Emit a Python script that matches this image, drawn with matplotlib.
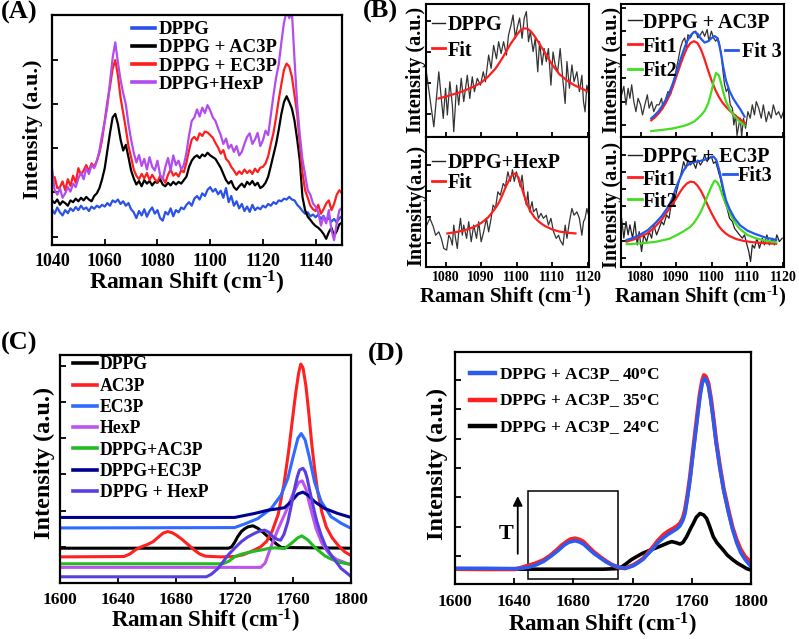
import numpy as np
import matplotlib
matplotlib.use('Agg')
import matplotlib.pyplot as plt
from matplotlib.patches import Rectangle
from matplotlib.lines import Line2D

plt.rcParams['font.family'] = ['Liberation Serif', 'DejaVu Serif']
plt.rcParams['font.weight'] = 'bold'
plt.rcParams['axes.labelweight'] = 'bold'
plt.rcParams['mathtext.fontset'] = 'custom'
plt.rcParams['mathtext.rm'] = 'Liberation Serif:bold'
plt.rcParams['mathtext.it'] = 'Liberation Serif:bold:italic'
plt.rcParams['mathtext.bf'] = 'Liberation Serif:bold'
plt.rcParams['mathtext.default'] = 'rm'

# ---------------- Panel A data ----------------
a_x = np.arange(1040, 1151)
a_dppg = [0.62, 0.52, 0.66, 0.55, 0.48, 0.60, 0.53, 0.64, 0.58, 0.67,
          0.60, 0.70, 0.62, 0.66, 0.58, 0.68, 0.63, 0.70, 0.66, 0.72,
          0.68, 0.76, 0.70, 0.82, 0.78, 0.84, 0.74, 0.80, 0.70, 0.76,
          0.62, 0.55, 0.42, 0.58, 0.48, 0.62, 0.45, 0.58, 0.66, 0.52,
          0.60, 0.42, 0.36, 0.56, 0.50, 0.64, 0.46, 0.60, 0.55, 0.66,
          0.62, 0.72, 0.78, 0.70, 0.86, 0.92, 0.84, 0.98, 0.92, 1.06,
          1.12, 1.02, 1.08, 0.96, 1.04, 0.88, 1.10, 0.78, 0.92, 0.70,
          0.80, 0.64, 0.74, 0.58, 0.68, 0.56, 0.72, 0.60, 0.66, 0.62,
          0.70, 0.66, 0.74, 0.70, 0.78, 0.74, 0.82, 0.80, 0.86, 0.84,
          0.90, 0.84, 0.82, 0.72, 0.66, 0.58, 0.52, 0.55, 0.46, 0.50,
          0.44, 0.50, 0.40, 0.47, 0.36, 0.42, 0.34, 0.40, 0.32, 0.42, 0.46]
a_ac3p = [0.82, 0.76, 0.84, 0.72, 0.80, 0.76, 0.70, 0.82, 0.78, 0.86,
          0.80, 0.88, 0.82, 0.90, 0.84, 0.80, 0.92, 0.98, 1.10, 1.30,
          1.55, 1.95, 2.35, 2.70, 2.78, 2.55, 2.20, 1.95, 2.08, 1.80,
          1.50, 1.32, 1.18, 1.26, 1.14, 1.28, 1.20, 1.26, 1.16, 1.24,
          1.22, 1.30, 1.18, 1.14, 1.22, 1.16, 1.24, 1.18, 1.24, 1.20,
          1.28, 1.36, 1.58, 1.72, 1.80, 1.84, 1.78, 1.86, 1.82, 1.90,
          1.84, 1.80, 1.76, 1.66, 1.56, 1.42, 1.28, 1.20, 1.26, 1.12,
          1.06, 1.14, 1.20, 1.12, 1.24, 1.18, 1.26, 1.16, 1.22, 1.10,
          1.14, 1.22, 1.36, 1.60, 1.85, 2.10, 2.42, 2.78, 3.05, 3.18,
          3.05, 2.90, 2.62, 2.20, 1.72, 0.90, 0.60, 0.45, 0.38, 0.30,
          0.24, 0.20, 0.14, 0.06, -0.05, 0.10, 0.20, 0.02, 0.12, 0.28, 0.32]
a_ec3p = [1.20, 1.35, 1.10, 1.12, 1.25, 1.05, 1.30, 1.15, 1.38, 1.22,
          1.55, 1.40, 1.50, 1.62, 1.48, 1.66, 1.58, 1.72, 1.90, 2.20,
          2.62, 3.05, 3.40, 3.80, 4.00, 3.65, 3.15, 2.80, 2.45, 2.05,
          1.80, 1.52, 1.38, 1.30, 1.42, 1.32, 1.44, 1.28, 1.40, 1.30,
          1.24, 1.38, 1.32, 1.22, 1.40, 1.52, 1.38, 1.44, 1.36, 1.50,
          1.46, 1.68, 1.96, 2.20, 2.26, 2.18, 2.34, 2.28, 2.38, 2.36,
          2.30, 2.24, 2.12, 2.02, 1.88, 1.96, 1.76, 1.70, 1.58, 1.50,
          1.40, 1.48, 1.42, 1.52, 1.44, 1.50, 1.42, 1.54, 1.46, 1.56,
          1.58, 1.66, 1.82, 2.10, 2.35, 2.70, 3.10, 3.45, 3.78, 3.92,
          3.85, 3.62, 3.20, 2.78, 2.10, 1.45, 1.05, 0.88, 0.70, 0.62,
          0.58, 0.72, 0.52, 0.62, 0.75, 0.82, 0.60, 0.74, 0.95, 1.05, 0.98]
a_hexp = [1.55, 1.05, 0.95, 1.10, 0.88, 0.98, 1.12, 1.02, 1.20, 1.12,
          1.32, 1.45, 1.30, 1.55, 1.42, 1.62, 1.55, 1.70, 1.95, 2.30,
          2.60, 2.95, 3.50, 4.05, 4.40, 3.95, 3.55, 3.25, 3.00, 2.55,
          2.20, 1.90, 1.68, 1.85, 1.60, 1.76, 1.52, 1.80, 1.58, 1.50,
          1.72, 1.40, 1.30, 1.58, 1.78, 1.50, 1.84, 1.62, 1.72, 1.52,
          1.62, 1.90, 2.30, 2.62, 2.70, 2.88, 2.72, 2.92, 2.80, 2.98,
          2.86, 2.70, 2.62, 2.45, 2.30, 2.10, 2.22, 2.00, 2.08, 1.92,
          2.05, 1.84, 1.92, 2.10, 2.26, 2.34, 2.10, 2.20, 2.35, 2.05,
          2.18, 2.40, 2.30, 2.75, 3.20, 3.60, 3.90, 4.40, 4.85, 5.10,
          4.95, 5.10, 4.00, 3.00, 2.30, 1.75, 1.40, 1.05, 0.95, 0.75,
          0.68, 0.55, 0.25, 0.45, 0.30, 0.60, 0.15, -0.08, 0.30, 0.60, 0.65]
a_labels = ['DPPG', 'DPPG + AC3P', 'DPPG + EC3P', 'DPPG+HexP']
a_ticks = [1040, 1060, 1080, 1100, 1120, 1140]

# ---------------- Panel B data ----------------
b_ticks = [1080, 1090, 1100, 1110, 1120]
# upper-left: DPPG
ul_x = [1074.6, 1076.7, 1078.1, 1078.8, 1079.35, 1080.0, 1080.5, 1081.2, 1081.9, 1082.3,
        1083.1, 1083.7, 1084.4, 1085.1, 1086.1, 1086.8, 1087.5, 1088.1, 1088.9, 1089.8,
        1090.6, 1091.2, 1092.1, 1092.8, 1093.5, 1094.3, 1094.9, 1095.6, 1096.3, 1097.1,
        1097.7, 1098.4, 1098.95, 1099.6, 1100.1, 1100.8, 1101.5, 1102.1, 1102.7, 1103.3,
        1103.8, 1104.6, 1105.2, 1105.9, 1106.4, 1107.1, 1107.7, 1108.3, 1108.9, 1109.6,
        1110.2, 1110.8, 1111.5, 1112.2, 1113.0, 1113.6, 1114.1, 1114.8, 1115.5, 1116.1,
        1116.9, 1117.6, 1118.3, 1118.75, 1119.2, 1119.7, 1120.3]
ul_y = [1.35, -0.42, 1.35, 0.49, -0.15, 0.82, -0.04, 1.03, 0.28, -0.58,
        0.92, 0.28, 1.14, 0.39, 1.24, 0.49, 1.19, 0.71, 1.14, 0.92,
        1.35, 1.03, 1.89, 1.46, 2.20, 1.77, 2.32, 1.94, 2.32, 1.89,
        2.54, 2.86, 3.18, 2.43, 2.75, 3.08, 2.43, 3.08, 3.29, 2.32,
        2.65, 2.00, 2.43, 1.35, 2.32, 1.57, 2.10, 1.68, 2.10, 0.92,
        1.99, 1.57, 1.35, 2.10, 1.03, 0.33, 1.68, 0.82, 1.57, 1.03,
        1.35, 0.71, 1.24, 0.39, 0.06, 0.92, 0.60]
ul_fit_x = [1078, 1080, 1082, 1084, 1086, 1088, 1090, 1092, 1094, 1095, 1096, 1098, 1100,
            1101, 1102, 1103, 1104, 1105, 1106, 1108, 1110, 1112, 1114, 1116, 1118, 1120]
ul_fit_y = [0.49, 0.55, 0.62, 0.69, 0.78, 0.88, 1.00, 1.20, 1.45, 1.62, 1.80, 2.20, 2.54,
            2.68, 2.75, 2.74, 2.65, 2.50, 2.32, 1.95, 1.57, 1.27, 1.08, 0.93, 0.82, 0.72]
# lower-left: DPPG+HexP
ll_x = [1074.7, 1075.6, 1076.55, 1077.2, 1078.1, 1078.8, 1079.5, 1080.3, 1080.9, 1081.4,
        1081.9, 1082.3, 1082.8, 1083.3, 1083.7, 1084.2, 1084.7, 1085.1, 1085.9, 1086.5,
        1087.2, 1087.9, 1088.7, 1089.3, 1090.0, 1090.7, 1091.5, 1092.1, 1092.8, 1093.35,
        1094.0, 1094.7, 1095.4, 1096.2, 1096.8, 1097.5, 1098.2, 1098.8, 1099.3, 1099.9,
        1100.5, 1101.0, 1101.5, 1102.1, 1102.7, 1103.1, 1103.6, 1104.3, 1104.7, 1105.5,
        1106.1, 1106.8, 1107.5, 1108.3, 1108.9, 1109.6, 1110.35, 1111.1, 1111.75, 1112.2,
        1113.0, 1113.6, 1114.1, 1114.8, 1115.5, 1116.1, 1116.9, 1117.6, 1118.3, 1118.75,
        1119.2, 1119.7, 1120.3]
ll_y = [0.68, 0.94, 0.62, 0.29, 0.42, 0.17, -0.22, -0.28, 0.29, 0.17,
        -0.09, 0.68, 0.17, -0.22, 0.42, 0.94, 0.29, 0.68, 0.17, 0.81,
        0.04, 0.68, 0.17, 0.81, 0.04, 0.42, 0.94, 0.42, 0.94, 1.45,
        1.32, 1.96, 1.83, 2.28, 2.15, 2.73, 2.36, 2.81, 2.36, 2.73,
        2.41, 2.15, 2.60, 1.83, 1.45, 1.96, 1.19, 1.58, 1.19, 1.32,
        0.94, 1.13, 0.94, 1.06, 0.68, 0.94, 0.42, 0.17, 0.29, 0.10,
        -0.09, 0.68, 0.17, 0.81, 1.32, 1.06, 1.19, 0.94, 0.29, 0.81,
        0.94, 1.32, 1.00]
ll_fit_x = [1080.5, 1082, 1084, 1086, 1088, 1090, 1092, 1094, 1095, 1096, 1097, 1098, 1098.7,
            1099.6, 1100.5, 1101, 1102, 1103, 1104, 1105, 1106, 1107, 1108, 1110, 1112, 1114, 1116.5]
ll_fit_y = [0.36, 0.39, 0.44, 0.51, 0.61, 0.76, 0.98, 1.33, 1.55, 1.85, 2.18, 2.45, 2.60,
            2.67, 2.50, 2.30, 1.85, 1.45, 1.18, 0.97, 0.84, 0.73, 0.64, 0.51, 0.43, 0.39, 0.36]
# upper-right: DPPG + AC3P
ur_x = [1074.67, 1075.3, 1075.9, 1076.5, 1077.0, 1077.5, 1078.1, 1078.7, 1079.3, 1080.0,
        1080.55, 1081.2, 1081.9, 1082.4, 1083.1, 1083.7, 1084.5, 1085.2, 1085.9, 1086.3,
        1087.1, 1087.7, 1088.4, 1089.1, 1089.9, 1090.5, 1091.2, 1091.8, 1092.4, 1092.9,
        1093.3, 1094.0, 1094.7, 1095.5, 1096.1, 1096.8, 1097.4, 1098.0, 1098.7, 1099.2,
        1099.9, 1100.5, 1101.1, 1101.75, 1102.2, 1102.7, 1103.15, 1103.6, 1104.1, 1104.6,
        1105.2, 1105.8, 1106.2, 1106.7, 1107.1, 1107.6, 1108.0, 1108.4, 1108.9, 1109.5,
        1110.15, 1110.8, 1111.4, 1112.0, 1112.5, 1113.2, 1113.9, 1114.5, 1115.3, 1116.0,
        1116.7, 1117.3, 1118.1, 1118.8, 1119.5, 1120.14]
ur_y = [1.29, 1.65, 0.86, 1.57, 1.14, 1.72, 1.00, 0.57, 1.14, 0.86,
        0.43, 0.86, 1.29, 0.72, 1.00, 0.57, 0.86, 0.86, 1.14, 0.72,
        1.14, 1.43, 1.29, 1.72, 2.29, 2.72, 3.29, 3.58, 3.72, 3.29,
        3.86, 3.72, 3.93, 4.01, 3.72, 3.86, 4.01, 3.79, 4.08, 3.58,
        4.01, 3.72, 3.58, 3.72, 3.43, 3.00, 2.29, 1.72, 1.43, 1.57,
        0.86, 0.72, 0.00, 0.43, -0.45, 0.00, 0.29, -0.50, 0.29, -0.14,
        0.57, 0.29, 0.86, 0.43, 1.00, 0.72, 0.29, 0.86, 0.14, 0.57,
        0.29, 0.86, 0.43, 0.57, 0.29, 0.57]
ur_fit1_x = [1083, 1084, 1085, 1086, 1087, 1088, 1089, 1090, 1091, 1092, 1093, 1094, 1095, 1096,
             1097, 1098, 1099, 1100, 1101, 1102, 1103, 1104, 1105, 1106, 1107, 1108, 1109.2]
ur_fit1_y = [0.20, 0.32, 0.48, 0.68, 0.92, 1.22, 1.60, 2.05, 2.50, 2.92, 3.28, 3.50, 3.58, 3.50,
             3.22, 2.80, 2.32, 1.88, 1.50, 1.20, 0.96, 0.78, 0.62, 0.48, 0.36, 0.24, 0.10]
ur_fit2_x = [1083, 1086, 1089, 1091, 1093, 1095, 1096, 1097, 1098, 1099, 1100, 1100.5, 1101.2,
             1102, 1102.6, 1103.2, 1104, 1105, 1106, 1107, 1108, 1109.2]
ur_fit2_y = [-0.26, -0.21, -0.15, -0.08, 0.00, 0.14, 0.27, 0.42, 0.60, 0.92, 1.48, 1.85, 2.22,
             2.12, 1.80, 1.42, 1.00, 0.68, 0.44, 0.28, 0.12, -0.03]
ur_fit3_x = [1083, 1084, 1085, 1086, 1087, 1088, 1089, 1090, 1091, 1092, 1093, 1094, 1095, 1096,
             1097, 1098, 1099, 1100, 1100.8, 1101.5, 1102, 1102.6, 1103.2, 1104, 1105, 1106,
             1107, 1108, 1109.2]
ur_fit3_y = [0.28, 0.42, 0.58, 0.80, 1.05, 1.35, 1.75, 2.20, 2.70, 3.15, 3.55, 3.82, 3.98, 3.90,
             3.68, 3.52, 3.58, 3.72, 3.80, 3.72, 3.50, 3.05, 2.50, 1.90, 1.45, 1.14,
             0.90, 0.68, 0.36]
# lower-right: DPPG + EC3P
lr_x = [1074.67, 1075.3, 1075.9, 1076.5, 1077.0, 1077.75, 1078.4, 1079.06, 1079.6, 1080.27,
        1080.9, 1081.7, 1082.4, 1083.1, 1083.7, 1084.5, 1085.2, 1085.9, 1086.5, 1087.3,
        1088.0, 1088.7, 1089.3, 1090.1, 1090.8, 1091.5, 1092.1, 1092.7, 1093.3, 1094.0,
        1094.7, 1095.5, 1096.1, 1096.8, 1097.4, 1098.0, 1098.7, 1099.2, 1099.9, 1100.5,
        1101.1, 1101.75, 1102.4, 1103.0, 1103.6, 1104.3, 1105.0, 1105.8, 1106.4, 1107.1,
        1107.8, 1108.6, 1109.2, 1109.9, 1110.4, 1110.9, 1111.4, 1112.0, 1112.7, 1113.4,
        1114.2, 1114.8, 1115.5, 1116.2, 1117.0, 1117.6, 1118.3, 1119.0, 1119.8]
lr_y = [2.31, 1.16, 2.12, 1.35, 1.93, 1.16, 2.12, 0.77, 1.54, 0.39,
        1.35, 0.96, 1.54, 1.16, 1.93, 1.35, 1.73, 2.12, 1.93, 2.50,
        2.31, 3.28, 3.08, 3.85, 4.43, 5.01, 5.59, 5.20, 5.68, 5.39,
        5.59, 5.20, 5.68, 5.39, 5.59, 5.97, 5.59, 5.78, 5.88, 5.49,
        5.59, 5.11, 4.62, 4.05, 3.28, 2.89, 2.31, 2.12, 1.73, 1.54,
        1.35, 1.16, 1.35, 0.77, 0.39, -0.20, 0.77, 0.58, 1.16, 0.58,
        1.16, 0.77, 1.35, 0.77, 1.16, 0.77, 1.35, 0.96, 1.16]
lr_fit1_x = [1076.1, 1078, 1080, 1082, 1084, 1086, 1088, 1090, 1091, 1092, 1093, 1094, 1095,
             1096, 1097, 1098, 1099, 1100, 1101, 1102, 1103, 1104, 1105, 1107, 1109, 1111,
             1113.4, 1116, 1118.1]
lr_fit1_y = [0.96, 1.08, 1.25, 1.45, 1.80, 2.25, 2.85, 3.45, 3.80, 4.10, 4.32, 4.43, 4.40,
             4.20, 3.88, 3.47, 3.00, 2.58, 2.20, 1.85, 1.60, 1.42, 1.28, 1.10, 1.00, 0.94,
             0.89, 0.86, 0.84]
lr_fit2_x = [1076.1, 1080, 1084, 1088, 1090, 1092, 1094, 1095, 1096, 1097, 1098, 1099, 1100,
             1100.8, 1101.5, 1102.2, 1103, 1104, 1105, 1106, 1107, 1108, 1110, 1112.5, 1115, 1118.1]
lr_fit2_y = [0.81, 0.86, 0.94, 1.12, 1.32, 1.55, 1.82, 2.05, 2.35, 2.72, 3.18, 3.70, 4.20,
             4.49, 4.40, 4.14, 3.65, 3.12, 2.65, 2.25, 1.92, 1.68, 1.35, 1.14, 1.02, 0.92]
lr_fit3_x = [1076.1, 1078, 1080, 1082, 1084, 1086, 1088, 1089, 1090, 1091, 1092, 1093, 1094,
             1095, 1096, 1097, 1098, 1099, 1100, 1100.5, 1101.3, 1102.2, 1103.2, 1104, 1105,
             1106.4, 1108, 1110, 1112, 1115, 1118.1]
lr_fit3_y = [1.06, 1.18, 1.38, 1.62, 2.00, 2.45, 3.05, 3.50, 4.10, 4.60, 5.05, 5.35, 5.50,
             5.57, 5.60, 5.64, 5.70, 5.78, 5.86, 5.88, 5.68, 5.01, 4.05, 3.35, 2.85,
             2.31, 1.90, 1.60, 1.42, 1.20, 1.06]

# ---------------- Panel C data ----------------
cd_ticks = [1600, 1640, 1680, 1720, 1760, 1800]
c_labels = ['DPPG', 'AC3P', 'EC3P', 'HexP', 'DPPG+AC3P', 'DPPG+EC3P', 'DPPG + HexP']
c_dppg_x = [1600, 1716, 1718, 1720, 1722, 1724.6, 1727, 1729.2, 1732.6, 1736, 1739.5, 1742.9,
            1746, 1748.6, 1752, 1800]
c_dppg_y = [-0.04, -0.04, 0.0, 0.12, 0.27, 0.42, 0.50, 0.55, 0.58, 0.51, 0.40, 0.28,
            0.17, 0.08, -0.02, -0.04]
c_ac3p_x = [1600, 1644, 1648, 1652, 1656, 1660, 1664, 1668, 1671, 1674, 1677, 1680, 1684, 1688,
            1692, 1696, 1700, 1710, 1720, 1726, 1732, 1738, 1742, 1746, 1750, 1754, 1757, 1760,
            1762, 1764, 1765.5, 1767, 1769, 1771, 1773, 1775, 1777, 1780, 1783, 1787, 1792,
            1796, 1800]
c_ac3p_y = [-0.28, -0.27, -0.20, -0.08, 0.00, 0.06, 0.14, 0.28, 0.38, 0.42, 0.39, 0.32, 0.20,
            0.06, -0.08, -0.20, -0.26, -0.28, -0.27, -0.22, -0.12, 0.00, 0.15, 0.45, 0.90, 1.75,
            2.60, 3.60, 4.25, 4.80, 5.05, 4.95, 4.45, 3.70, 2.85, 2.15, 1.55, 0.95, 0.55,
            0.25, 0.00, -0.15, -0.24]
c_ec3p_x = [1600, 1720, 1726.9, 1736, 1745.2, 1752, 1756.6, 1760, 1763.5, 1765.8, 1768.5,
            1771.5, 1774.9, 1779.5, 1786.3, 1793.2, 1800]
c_ec3p_y = [0.52, 0.53, 0.63, 0.78, 1.06, 1.43, 1.89, 2.45, 3.00, 3.13, 2.95, 2.45, 1.80,
            1.25, 0.83, 0.65, 0.51]
c_hexp_x = [1600, 1738, 1741, 1745, 1750, 1755, 1760, 1764, 1766.5, 1769, 1772, 1776, 1780,
            1785, 1790, 1800]
c_hexp_y = [-0.57, -0.57, -0.45, 0.00, 0.50, 0.95, 1.45, 1.78, 1.82, 1.60, 1.10, 0.50, 0.10,
            -0.20, -0.35, -0.50]
c_dac_x = [1600, 1712, 1716, 1720, 1725, 1729.2, 1734, 1738.3, 1743, 1747.5, 1751, 1754.3,
           1758.9, 1763.5, 1766.2, 1770.3, 1774, 1777.2, 1782, 1786.3, 1792, 1800]
c_dac_y = [-0.47, -0.47, -0.40, -0.28, -0.20, -0.16, -0.12, -0.09, -0.05, -0.03, -0.04, -0.05,
           0.09, 0.25, 0.30, 0.19, 0.03, -0.09, -0.25, -0.34, -0.43, -0.49]
c_dec_x = [1600, 1720, 1733.7, 1742.9, 1749.7, 1754.3, 1758.9, 1763.5, 1766.9, 1770.3, 1774.9,
           1781.8, 1790.9, 1800]
c_dec_y = [0.81, 0.81, 0.92, 1.01, 1.05, 1.08, 1.25, 1.46, 1.51, 1.43, 1.25, 1.06, 0.92, 0.81]
c_dhx_x = [1600, 1700.6, 1704, 1708.6, 1712, 1715.5, 1720, 1724.6, 1729, 1733.7, 1737, 1740.6,
           1743.5, 1746.3, 1749, 1751.6, 1754, 1756.6, 1759, 1761.2, 1763, 1764.6, 1766.9,
           1768.5, 1769.9, 1771.8, 1773.8, 1776.5, 1779.5, 1782.5, 1786.3, 1793.2, 1800]
c_dhx_y = [-0.83, -0.83, -0.76, -0.60, -0.42, -0.23, -0.04, 0.14, 0.27, 0.37, 0.43, 0.46,
           0.40, 0.28, 0.21, 0.18, 0.35, 0.69, 1.15, 1.61, 1.92, 2.12, 2.17,
           2.08, 1.89, 1.52, 1.15, 0.70, 0.32, 0.02, -0.23, -0.60, -0.82]

# ---------------- Panel D data ----------------
d_labels = ['DPPG + AC3P_ 40$^{\\rm o}$C', 'DPPG + AC3P_ 35$^{\\rm o}$C', 'DPPG + AC3P_ 24$^{\\rm o}$C']
d_24_x = [1600, 1700, 1710, 1713, 1716, 1719, 1722.7, 1727, 1731.8, 1736, 1740.8, 1744, 1746.4,
          1749, 1752, 1754, 1756.5, 1759, 1761, 1763, 1765.5, 1768, 1770, 1772, 1774.5, 1777,
          1781.3, 1784, 1788, 1791, 1794.8, 1797, 1800]
d_24_y = [-0.45, -0.45, -0.43, -0.36, -0.25, -0.13, -0.02, 0.10, 0.20, 0.28, 0.38, 0.45, 0.49,
          0.46, 0.41, 0.46, 0.66, 0.92, 1.11, 1.32, 1.45, 1.40, 1.28, 1.02, 0.66, 0.45,
          0.20, 0.03, -0.14, -0.25, -0.36, -0.43, -0.48]
d_35_x = [1600, 1620, 1640.5, 1644, 1648.4, 1654, 1659.7, 1664, 1668.7, 1672, 1675.5, 1678,
          1681.1, 1684, 1686.7, 1690, 1693.5, 1698, 1702.5, 1706, 1710.4, 1714.9, 1720.5, 1724,
          1727.3, 1730, 1734, 1737, 1740.8, 1744, 1747.5, 1750, 1752, 1754, 1755.4, 1757,
          1758.8, 1760.5, 1762.2, 1764, 1765.5, 1767, 1768.2, 1769.5, 1771.2, 1773, 1774.5,
          1776.5, 1779, 1781.5, 1784.7, 1787.5, 1790.3, 1793, 1796, 1800]
d_35_y = [-0.44, -0.45, -0.45, -0.41, -0.34, -0.26, -0.14, 0.00, 0.20, 0.36, 0.49, 0.57,
          0.60, 0.56, 0.49, 0.32, 0.15, -0.03, -0.19, -0.30, -0.39, -0.42, -0.31, -0.20,
          -0.08, 0.08, 0.32, 0.52, 0.72, 0.84, 0.94, 1.02, 1.11, 1.30, 1.57, 2.05,
          2.70, 3.45, 4.18, 4.95, 5.55, 5.98, 6.17, 6.12, 5.89, 5.35, 4.75,
          3.90, 3.05, 2.30, 1.57, 0.98, 0.55, 0.22, -0.02, -0.22]
d_40_x = [1600, 1620, 1640, 1645, 1650, 1655, 1660, 1665, 1670, 1674, 1677, 1681, 1684, 1687,
          1690, 1694, 1698, 1702, 1706, 1710, 1715, 1720.5, 1724, 1727.3, 1730, 1734, 1737,
          1740.8, 1744, 1747.5, 1750, 1752, 1754, 1755.4, 1757, 1758.8, 1760.5, 1762.2, 1764,
          1765.5, 1767, 1768.5, 1769.5, 1771.2, 1773, 1774.5, 1776.5, 1779, 1781.5, 1784.7,
          1787.5, 1790.3, 1793, 1796, 1800]
d_40_y = [-0.42, -0.42, -0.43, -0.42, -0.38, -0.30, -0.18, 0.00, 0.20, 0.38, 0.47, 0.52, 0.48,
          0.40, 0.26, 0.08, -0.06, -0.20, -0.30, -0.38, -0.42, -0.33, -0.22, -0.10, 0.05, 0.26,
          0.45, 0.62, 0.74, 0.85, 0.93, 1.03, 1.22, 1.45, 1.95, 2.60, 3.35, 4.05, 4.80,
          5.42, 5.88, 6.07, 6.03, 5.80, 5.25, 4.68, 3.85, 3.00, 2.25, 1.50,
          0.92, 0.45, 0.12, -0.12, -0.36]

# ---------------- layout helpers ----------------
W, H = 799, 639
fig = plt.figure(figsize=(W / 100, H / 100), dpi=100)
SERIF = 'Liberation Serif'
XLAB = 'Raman Shift (cm$^{\u2010 1}$)'


def fx(x):
    return x / W


def fy(y):
    return 1 - y / H


def box(x0, y0, x1, y1):
    return fig.add_axes([x0 / W, 1 - y1 / H, (x1 - x0) / W, (y1 - y0) / H])


def style(ax, labelsize=12, pad=6, lw=1.6, ticklen=4):
    for s in ax.spines.values():
        s.set_linewidth(lw)
    ax.tick_params(direction='in', length=ticklen, width=1.3, labelsize=labelsize, pad=pad)
    for t in ax.get_xticklabels():
        t.set_fontweight('bold')


def xlabel(ax, text, x, y, size):
    ax.set_xlabel(text, fontsize=size, fontweight='bold', va='center', ha='center')
    ax.xaxis.set_label_coords(fx(x), fy(y), transform=fig.transFigure)


def ylabel(ax, text, x, y, size):
    ax.set_ylabel(text, fontsize=size, fontweight='bold', va='center', ha='center')
    ax.yaxis.set_label_coords(fx(x), fy(y), transform=fig.transFigure)


def legend(ax, handles, labels, x, y, size, hl, htp, ls):
    leg = ax.legend(handles, labels, loc='upper left', bbox_to_anchor=(fx(x), fy(y)),
                    bbox_transform=fig.transFigure, frameon=False, borderpad=0,
                    borderaxespad=0, handlelength=hl, handletextpad=htp, labelspacing=ls,
                    prop={'size': size, 'weight': 'bold', 'family': SERIF})
    return leg


BLUE_A = '#2a52e8'
RED = '#ff1e1e'
PURPLE = '#b24cee'
GREEN = '#44dd22'
FITBLUE = '#2457ee'

# ---------------- Panel A ----------------
axA = box(52, 15, 342, 245)
la = [axA.plot(a_x, a_dppg, color=BLUE_A, lw=1.6)[0],
      axA.plot(a_x, a_ac3p, color='black', lw=1.6)[0],
      axA.plot(a_x, a_ec3p, color=RED, lw=1.6)[0],
      axA.plot(a_x, a_hexp, color=PURPLE, lw=1.6)[0]]
axA.set_xlim(1040, 1150)
axA.set_ylim(-0.19, 5.02)
axA.set_xticks(a_ticks)
axA.set_yticks([0, 1, 2, 3, 4])
axA.set_yticklabels([])
style(axA, labelsize=13, pad=6)
hA = [Line2D([], [], color=l.get_color(), lw=2.6) for l in la]
legend(axA, hA, a_labels, 132, 21, 13.5, 1.2, 0.25, 0.06)
xlabel(axA, XLAB, 187, 283, 17)
ylabel(axA, 'Intensity (a.u.)', 33, 129, 16)

# ---------------- Panel B ----------------
axUL = box(426, 3.5, 589, 136.7)
axLL = box(426, 136.7, 589, 266.7)
axUR = box(621, 3.5, 784, 136.7)
axLR = box(621, 136.7, 784, 266.7)

axUL.plot(ul_x, ul_y, color='#333333', lw=0.9)
axUL.plot(ul_fit_x, ul_fit_y, color=RED, lw=1.6)
axLL.plot(ll_x, ll_y, color='#333333', lw=0.9)
axLL.plot(ll_fit_x, ll_fit_y, color=RED, lw=1.6)
axUR.plot(ur_x, ur_y, color='#333333', lw=0.9)
axUR.plot(ur_fit1_x, ur_fit1_y, color=RED, lw=1.6)
axUR.plot(ur_fit2_x, ur_fit2_y, color=GREEN, lw=1.6)
axUR.plot(ur_fit3_x, ur_fit3_y, color=FITBLUE, lw=1.6)
axLR.plot(lr_x, lr_y, color='#222222', lw=0.9)
axLR.plot(lr_fit1_x, lr_fit1_y, color=RED, lw=1.6)
axLR.plot(lr_fit2_x, lr_fit2_y, color=GREEN, lw=1.6)
axLR.plot(lr_fit3_x, lr_fit3_y, color=FITBLUE, lw=1.6)

for ax, ylim, nt in [(axUL, (-0.74, 3.55), 4), (axLL, (-0.92, 4.08), 4),
                     (axUR, (-0.50, 5.19), 6), (axLR, (-0.49, 7.03), 7)]:
    ax.set_xlim(1074.5, 1120.3)
    ax.set_ylim(*ylim)
    ax.set_xticks(b_ticks)
    ax.set_yticks(list(range(nt)))
    ax.set_yticklabels([])
    style(ax, labelsize=10, pad=3, lw=1.5, ticklen=3.5)
for ax in (axUL, axUR):
    ax.set_xticklabels([])


def kline(c, w=1.0):
    return Line2D([], [], color=c, lw=w)


FS_B = 14.5
legend(axUL, [kline('#222222'), kline(RED, 2)], ['DPPG', 'Fit'], 432, 15.5, FS_B, 0.65, 0.12, 0.25)
legend(axLL, [kline('#222222'), kline(RED, 2)], ['DPPG+HexP', 'Fit'], 432, 153.5, FS_B, 0.65, 0.12, 0.0)
l3 = legend(axUR, [kline(FITBLUE, 2)], ['Fit 3'], 725, 42, FS_B, 0.65, 0.2, 0.1)
axUR.add_artist(l3)
legend(axUR, [kline('#222222'), kline(RED, 2), kline(GREEN, 2)], ['DPPG + AC3P', 'Fit1', 'Fit2'],
       628, 12.5, FS_B, 0.7, 0.05, 0.2)
l4 = legend(axLR, [kline(FITBLUE, 2)], ['Fit3'], 723, 166, FS_B, 0.7, 0.05, 0.1)
axLR.add_artist(l4)
legend(axLR, [kline('#222222'), kline(RED, 2), kline(GREEN, 2)], ['DPPG + EC3P', 'Fit1', 'Fit2'],
       628, 147.5, FS_B, 0.7, 0.05, 0.1)

xlabel(axLL, XLAB, 505, 296, 15)
xlabel(axLR, XLAB, 700, 296, 15)
ylabel(axUL, 'Intensity (a.u.)', 416.5, 70, 14.5)
ylabel(axLL, 'Intensity(a.u.)', 416.5, 205, 14.5)
ylabel(axUR, 'Intensity (a.u.)', 611.5, 70, 14.5)
ylabel(axLR, 'Intensity (a.u.)', 611.5, 205, 14.5)

# ---------------- Panel C ----------------
axC = box(60, 355, 351, 583.3)
c_series = [(c_dppg_x, c_dppg_y, 'black'), (c_ac3p_x, c_ac3p_y, '#ff2020'),
            (c_ec3p_x, c_ec3p_y, '#2f6bff'), (c_hexp_x, c_hexp_y, '#bb55ee'),
            (c_dac_x, c_dac_y, '#22bb22'), (c_dec_x, c_dec_y, '#000090'),
            (c_dhx_x, c_dhx_y, '#5a3ee0')]
for xs, ys, col in c_series:
    axC.plot(xs, ys, color=col, lw=2.2)
axC.set_xlim(1600, 1800)
axC.set_ylim(-1.01, 5.30)
axC.set_xticks(cd_ticks)
axC.set_yticks([0, 1, 2, 3, 4, 5])
axC.set_yticklabels([])
style(axC, labelsize=12.5, pad=6)
legend(axC, [kline(c, 2.6) for _, _, c in c_series], c_labels, 72.7, 356.5, 12.8, 1.35, 0.19, 0.24)
xlabel(axC, XLAB, 206, 621, 16.5)
ylabel(axC, 'Intensity (a.u.)', 44, 463, 17.5)

# ---------------- Panel D ----------------
axD = box(455, 351.7, 751, 584.3)
axD.plot(d_24_x, d_24_y, color='black', lw=2.6)
axD.plot(d_35_x, d_35_y, color='#ff2020', lw=3.0)
axD.plot(d_40_x, d_40_y, color='#2d5bf0', lw=2.6)
axD.add_patch(Rectangle((1649.1, -0.78), 60.8, 3.01, fill=False, lw=1.1, ec='black'))
axD.annotate('', xy=(1642.4, 2.14), xytext=(1642.4, -0.02),
             arrowprops=dict(arrowstyle='-|>', color='black', lw=1.3, mutation_scale=14))
axD.text(1634.8, 0.75, 'T', fontsize=16, fontweight='bold', ha='center', va='center')
axD.set_xlim(1600, 1800)
axD.set_ylim(-0.965, 6.97)
axD.set_xticks(cd_ticks)
axD.set_yticks([0, 1, 2, 3, 4, 5, 6])
axD.set_yticklabels([])
style(axD, labelsize=12.5, pad=7)
legend(axD, [kline('#2d5bf0', 3.2), kline('#ff2020', 3.2), kline('black', 3.2)], d_labels,
       470, 366, 12.5, 1.44, 0.23, 0.5)
xlabel(axD, XLAB, 602.5, 625, 16.5)
ylabel(axD, 'Intensity (a.u.)', 437.5, 464, 17.5)

# ---------------- panel letters ----------------
for txt, x, y in [('(A)', 1, 1), ('(B)', 363, 0), ('(C)', 1, 332), ('(D)', 368, 343)]:
    fig.text(fx(x), fy(y), txt, fontsize=19, fontweight='bold', ha='left', va='top')

fig.savefig('out.png', dpi=100)
